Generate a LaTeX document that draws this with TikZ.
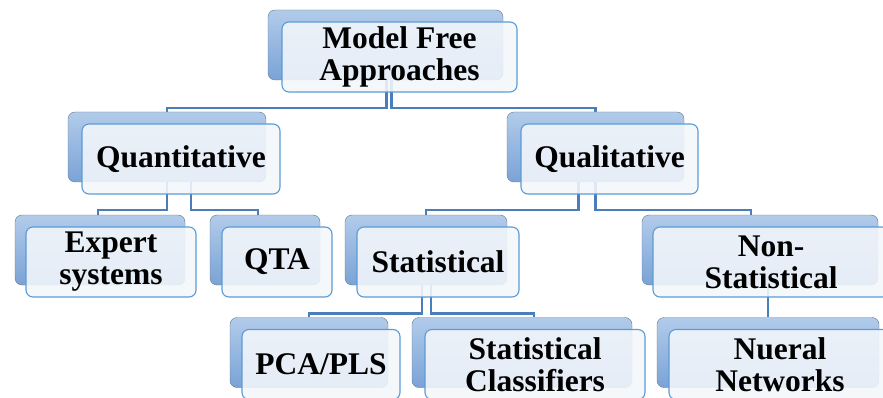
\documentclass[tikz,border=0pt]{standalone}
\usepackage{fontspec}
\setmainfont{Liberation Serif}
\usetikzlibrary{positioning,calc,backgrounds}

\definecolor{backlight}{HTML}{B2CBEA}
\definecolor{backdark}{HTML}{7AA3D6}
\definecolor{backedge}{HTML}{66768A}
\definecolor{frontedge}{HTML}{5B9BD5}
\definecolor{frontfill}{HTML}{F4F7FB}
\definecolor{linkblue}{HTML}{4A7EBB}

\begin{document}
\begin{tikzpicture}[x=1pt, y=1pt,
    backbox/.style={rectangle, rounded corners=7pt, draw=backedge, thin, top color=backlight, bottom color=backdark, minimum height=70pt, inner sep=0pt},
    frontbox/.style={rectangle, rounded corners=7pt, draw=frontedge, line width=1.1pt, fill=frontfill, fill opacity=0.88, text opacity=1, minimum height=70pt, inner sep=0pt, align=center, font=\fontsize{31.5}{32}\selectfont\bfseries},
    link/.style={draw=linkblue, line width=2.6pt}
]
\useasboundingbox (0,0) rectangle (883,-398);
\clip (0,0) rectangle (883,-398);

% back plates
\node (rootb) [backbox, minimum width=235pt] at (385.5,-45) {};
\node (qntb) [backbox, minimum width=198pt] at (167,-147) {};
\node (qltb) [backbox, minimum width=177pt] at (595.5,-147) {};
\node (expb) [backbox, minimum width=170pt] at (100,-250) {};
\node (qtab) [backbox, minimum width=110pt] at (265,-250) {};
\node (statb) [backbox, minimum width=162pt] at (426,-250) {};
\node (nonb) [backbox, minimum width=236pt] at (760,-250) {};
\node (pcab) [backbox, minimum width=158pt] at (309,-352.5) {};
\node (sclb) [backbox, minimum width=220pt] at (522,-352.5) {};
\node (nnb) [backbox, minimum width=222pt] at (768,-352.5) {};

% front boxes
\node (root) [frontbox, minimum width=235pt, xshift=14pt, yshift=-12pt] at (rootb) {Model Free\\Approaches};
\node (qnt) [frontbox, minimum width=198pt, xshift=14pt, yshift=-12pt] at (qntb) {Quantitative};
\node (qlt) [frontbox, minimum width=177pt, xshift=14pt, yshift=-12pt] at (qltb) {Qualitative};
\node (exp) [frontbox, minimum width=170pt, xshift=11pt, yshift=-12pt] at (expb) {Expert\\systems};
\node (qta) [frontbox, minimum width=110pt, xshift=12pt, yshift=-12pt] at (qtab) {QTA};
\node (stat) [frontbox, minimum width=162pt, xshift=12pt, yshift=-12pt] at (statb) {Statistical};
\node (non) [frontbox, minimum width=236pt, xshift=11pt, yshift=-12pt] at (nonb) {Non-\\Statistical};
\node (pca) [frontbox, minimum width=158pt, xshift=12pt, yshift=-12pt] at (pcab) {PCA/PLS};
\node (scl) [frontbox, minimum width=220pt, xshift=13pt, yshift=-12pt] at (sclb) {Statistical\\Classifiers};
\node (nn) [frontbox, minimum width=222pt, xshift=12pt, yshift=-12pt] at (nnb) {Nueral\\Networks};

\begin{scope}[on background layer]
\draw [link] ([xshift=1pt]rootb.south) -- ++(0,-28) -| (qntb.north);
\draw [link] ([xshift=6pt]rootb.south) -- ++(0,-28) -| (qltb.north);

\draw [link] (qntb.south) -- ++(0,-28) -| ([xshift=-2pt]expb.north);
\draw [link] ([xshift=24pt]qntb.south) -- ++(0,-28) -| ([xshift=-7pt]qtab.north);

\draw [link] ([xshift=-17pt]qltb.south) -- ++(0,-28) -| (statb.north);
\draw [link] (qltb.south) -- ++(0,-28) -| ([xshift=-9pt]nonb.north);

\draw [link] ([xshift=-4pt]statb.south) -- ++(0,-28) -| (pcab.north);
\draw [link] ([xshift=5pt]statb.south) -- ++(0,-28) -| ([xshift=12pt]sclb.north);

\draw [link] ([xshift=8pt]nonb.south) -- (nnb.north);
\end{scope}

\end{tikzpicture}
\end{document}
